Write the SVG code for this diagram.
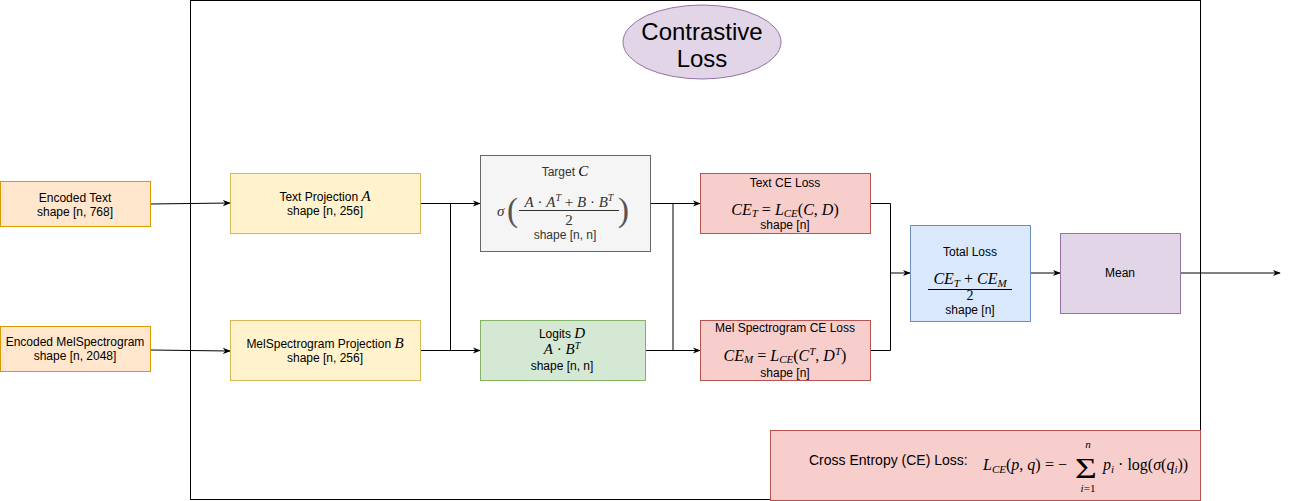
<svg xmlns="http://www.w3.org/2000/svg" width="1289" height="501" viewBox="0 0 1289 501">
<defs>
<marker id="arr" viewBox="0 0 10 10" refX="9" refY="5" markerWidth="8" markerHeight="8" markerUnits="userSpaceOnUse" orient="auto">
<path d="M0,1 L10,5 L0,9 L3,5 z" fill="#000"/>
</marker>
<style>
.t{font-family:"Liberation Sans",Arial,sans-serif;font-size:12px;fill:#000;text-anchor:middle}
.m{font-family:"Liberation Serif","Times New Roman",serif;fill:#000}
.i{font-style:italic}
.ln{fill:none;stroke:#000;stroke-width:1}
.a{marker-end:url(#arr)}
</style>
</defs>
<rect x="0" y="0" width="1289" height="501" fill="#fff"/>
<g id="frame">
<rect x="190.5" y="0.5" width="1010" height="499" fill="none" stroke="#000" stroke-width="1"/>
</g>
<g id="title">
<ellipse cx="702" cy="42" rx="79" ry="37" fill="#e1d5e7" stroke="#9673a6" stroke-width="1"/>
<text class="t" x="702" y="40" style="font-size:24px">Contrastive</text>
<text class="t" x="702" y="67" style="font-size:24px">Loss</text>
</g>
<g id="connectors">
<path class="ln a" d="M150,204 L230,203"/>
<path class="ln a" d="M150,350 L230,351"/>
<path class="ln a" d="M420,203.5 L480,203.5"/>
<path class="ln a" d="M420,350.5 L480,350.5"/>
<path class="ln" d="M450.5,203.5 L450.5,350.5"/>
<path class="ln a" d="M650,203.5 L700,203.5"/>
<path class="ln a" d="M645,350.5 L700,350.5"/>
<path class="ln" d="M673,203 L673,350.5"/>
<path class="ln a" d="M870,203.5 L890.5,203.5 L890.5,273 L910,273"/>
<path class="ln" d="M870,350.5 L890.5,350.5 L890.5,273"/>
<path class="ln a" d="M1030,273 L1060,273"/>
<path class="ln a" d="M1181,273 L1280,273"/>
</g>
<g id="encoded-text">
<rect x="0.5" y="181.5" width="150" height="45" fill="#ffe6cc" stroke="#d79b00"/>
<text class="t" x="75" y="202">Encoded Text</text>
<text class="t" x="75" y="216">shape [n, 768]</text>
</g>
<g id="encoded-mel">
<rect x="0.5" y="326.5" width="150" height="45" fill="#ffe6cc" stroke="#d79b00"/>
<text class="t" x="75" y="346">Encoded MelSpectrogram</text>
<text class="t" x="75" y="360">shape [n, 2048]</text>
</g>
<g id="text-projection">
<rect x="230.5" y="173.5" width="190" height="60" fill="#fff2cc" stroke="#d6b656"/>
<text class="t" x="325" y="201">Text Projection <tspan class="m i" style="font-size:15px">A</tspan></text>
<text class="t" x="325" y="215">shape [n, 256]</text>
</g>
<g id="mel-projection">
<rect x="230.5" y="320.5" width="190" height="60" fill="#fff2cc" stroke="#d6b656"/>
<text class="t" x="325" y="348">MelSpectrogram Projection <tspan class="m i" style="font-size:15px">B</tspan></text>
<text class="t" x="325" y="362">shape [n, 256]</text>
</g>
<g id="target">
<rect x="480.5" y="155.5" width="170" height="96" fill="#f5f5f5" stroke="#666666"/>
<text class="t" x="565" y="176" style="fill:#333">Target <tspan class="m i" style="font-size:15px">C</tspan></text>
<text class="m i" x="497" y="216" style="font-size:15px;fill:#333">σ</text>
<text class="m" x="507" y="221" style="font-size:33px;fill:#555">(</text>
<text class="m" x="618" y="221" style="font-size:33px;fill:#555">)</text>
<text class="m" x="569" y="207" style="font-size:15px;text-anchor:middle;fill:#333"><tspan class="i">A</tspan> · <tspan class="i">A</tspan><tspan class="i" dy="-6" style="font-size:10px">T</tspan><tspan dy="6"> + </tspan><tspan class="i">B</tspan> · <tspan class="i">B</tspan><tspan class="i" dy="-6" style="font-size:10px">T</tspan></text>
<line x1="519" y1="210.5" x2="619" y2="210.5" stroke="#333" stroke-width="1"/>
<text class="m" x="569" y="225" style="font-size:15px;text-anchor:middle;fill:#333">2</text>
<text class="t" x="565" y="239" style="fill:#333">shape [n, n]</text>
</g>
<g id="logits">
<rect x="480.5" y="320.5" width="165" height="60" fill="#d5e8d4" stroke="#82b366"/>
<text class="t" x="562" y="338">Logits <tspan class="m i" style="font-size:15px">D</tspan></text>
<text class="m" x="562" y="354" style="font-size:15px;text-anchor:middle"><tspan class="i">A</tspan> · <tspan class="i">B</tspan><tspan class="i" dy="-5" style="font-size:10px">T</tspan></text>
<text class="t" x="562" y="370">shape [n, n]</text>
</g>
<g id="text-ce">
<rect x="700.5" y="173.5" width="170" height="60" fill="#f8cecc" stroke="#b85450"/>
<text class="t" x="785" y="187">Text CE Loss</text>
<text class="m" x="785" y="215" style="font-size:16px;text-anchor:middle"><tspan class="i">CE</tspan><tspan class="i" dy="2" style="font-size:11px">T</tspan><tspan dy="-2"> = </tspan><tspan class="i">L</tspan><tspan class="i" dy="2" style="font-size:11px">CE</tspan><tspan dy="-2">(</tspan><tspan class="i">C</tspan>, <tspan class="i">D</tspan>)</text>
<text class="t" x="785" y="229">shape [n]</text>
</g>
<g id="mel-ce">
<rect x="700.5" y="320.5" width="170" height="60" fill="#f8cecc" stroke="#b85450"/>
<text class="t" x="785" y="332">Mel Spectrogram CE Loss</text>
<text class="m" x="785" y="361" style="font-size:16px;text-anchor:middle"><tspan class="i">CE</tspan><tspan class="i" dy="2" style="font-size:11px">M</tspan><tspan dy="-2"> = </tspan><tspan class="i">L</tspan><tspan class="i" dy="2" style="font-size:11px">CE</tspan><tspan dy="-2">(</tspan><tspan class="i">C</tspan><tspan class="i" dy="-6" style="font-size:11px">T</tspan><tspan dy="6">, </tspan><tspan class="i">D</tspan><tspan class="i" dy="-6" style="font-size:11px">T</tspan><tspan dy="6">)</tspan></text>
<text class="t" x="785" y="377">shape [n]</text>
</g>
<g id="total-loss">
<rect x="910.5" y="225.5" width="120" height="96" fill="#dae8fc" stroke="#6c8ebf"/>
<text class="t" x="970" y="256">Total Loss</text>
<text class="m" x="970" y="284" style="font-size:16px;text-anchor:middle"><tspan class="i">CE</tspan><tspan class="i" dy="3" style="font-size:11px">T</tspan><tspan dy="-3"> + </tspan><tspan class="i">CE</tspan><tspan class="i" dy="3" style="font-size:11px">M</tspan></text>
<line x1="928" y1="289.5" x2="1012" y2="289.5" stroke="#000" stroke-width="1"/>
<text class="m" x="970" y="300" style="font-size:14px;text-anchor:middle">2</text>
<text class="t" x="970" y="314">shape [n]</text>
</g>
<g id="mean">
<rect x="1060.5" y="233.5" width="120" height="80" fill="#e1d5e7" stroke="#9673a6"/>
<text class="t" x="1120" y="277">Mean</text>
</g>
<g id="cross-entropy">
<rect x="770.5" y="430.5" width="430" height="70" fill="#f8cecc" stroke="#b85450"/>
<text class="t" x="809" y="465" style="font-size:14px;text-anchor:start">Cross Entropy (CE) Loss:</text>
<text class="m" x="983" y="470" style="font-size:16px"><tspan class="i">L</tspan><tspan class="i" dy="3" style="font-size:11px">CE</tspan><tspan dy="-3">(</tspan><tspan class="i">p</tspan>, <tspan class="i">q</tspan>)</text>
<text class="m" x="1045" y="470" style="font-size:16px">= −</text>
<text class="m" transform="translate(1075,478) scale(1.25,1)" style="font-size:30px">Σ</text>
<text class="m i" x="1088" y="448" style="font-size:11px;text-anchor:middle">n</text>
<text class="m" x="1088" y="492" style="font-size:11px;text-anchor:middle"><tspan class="i">i</tspan>=1</text>
<text class="m" x="1103" y="470" style="font-size:16px"><tspan class="i">p</tspan><tspan class="i" dy="3" style="font-size:11px">i</tspan><tspan dy="-3"> · log(</tspan><tspan class="i">σ</tspan>(<tspan class="i">q</tspan><tspan class="i" dy="3" style="font-size:11px">i</tspan><tspan dy="-3">))</tspan></text>
</g>
</svg>
